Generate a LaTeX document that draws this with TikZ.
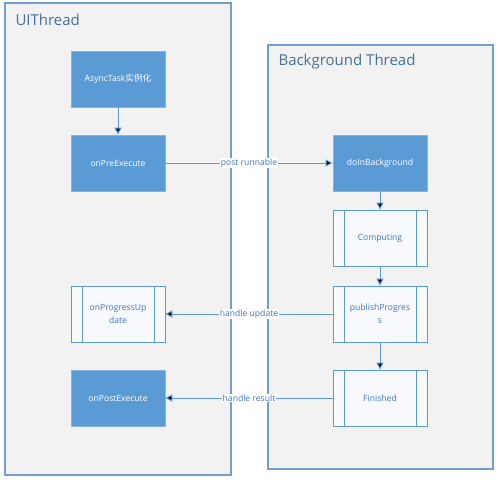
\documentclass[tikz,border=0pt]{standalone}
\usepackage{fontspec}
\setmainfont{Open Sans}
\newfontfamily\cjk{Noto Sans CJK SC}
\usetikzlibrary{positioning, arrows.meta}

\definecolor{vblue}{HTML}{5B9BD5}
\definecolor{vedge}{HTML}{8AB2DE}
\definecolor{vframe}{HTML}{729FD3}
\definecolor{vtitle}{HTML}{41719C}
\definecolor{vtext}{HTML}{3F78BE}
\definecolor{vgray}{HTML}{F2F2F2}
\definecolor{vsub}{HTML}{F7F9FD}

\tikzset{
    frame/.style={draw=vframe, fill=vgray, line width=1.2pt},
    title/.style={anchor=west, text=vtitle, font=\fontsize{15}{17}\selectfont},
    task/.style={draw=vedge, fill=vblue, text=white, line width=0.8pt,
        minimum width=94pt, minimum height=56pt, align=center},
    sub/.style={draw=vblue, fill=vsub, text=vtext, line width=0.8pt,
        minimum width=94pt, minimum height=56pt, align=center,
        path picture={
            \draw[vblue, line width=0.8pt]
                ([xshift=11pt]path picture bounding box.north west) --
                ([xshift=11pt]path picture bounding box.south west)
                ([xshift=-11pt]path picture bounding box.north east) --
                ([xshift=-11pt]path picture bounding box.south east);
        }},
    flow/.style={->, >={Triangle[width=7pt, length=7pt]}, draw=vblue, line width=1pt},
    lbl/.style={fill=white, text=vtext, inner sep=1pt}
}

\begin{document}
\begin{tikzpicture}[x=1pt, y=-1pt, node distance=84pt, on grid,
    font=\fontsize{8.6}{13}\selectfont]
    \useasboundingbox (0,0) rectangle (500,483);

    % thread frames
    \draw[frame] (5,3) rectangle (231,475);
    \draw[frame] (268,45) rectangle (493,469);
    \node[title] (uititle) at (12,20) {UIThread};
    \node[title] (bgtitle) at (275,62) {Background Thread};

    % UI thread
    \node[task] (async) at (118,79) {AsyncTask{\cjk 实例化}};
    \node[task] (pre) [below=of async] {onPreExecute};

    % background thread
    \node[task] (doin) [right=262pt of pre] {doInBackground};
    \node[sub] (comp) [below=75pt of doin] {Computing};
    \node[sub] (pub) [below=76pt of comp] {publishProgres\\s};
    \node[sub] (fin) [below=of pub] {Finished};

    \node[sub] (upd) [left=262pt of pub] {onProgressUp\\date};
    \node[task] (post) [left=262pt of fin] {onPostExecute};

    \path[flow]
    (async) edge (pre)
    (pre) edge node[lbl] {post runnable} (doin)
    (doin) edge (comp)
    (comp) edge (pub)
    (pub) edge (fin)
    (pub) edge node[lbl] {handle update} (upd)
    (fin) edge node[lbl] {handle result} (post);

\end{tikzpicture}
\end{document}
